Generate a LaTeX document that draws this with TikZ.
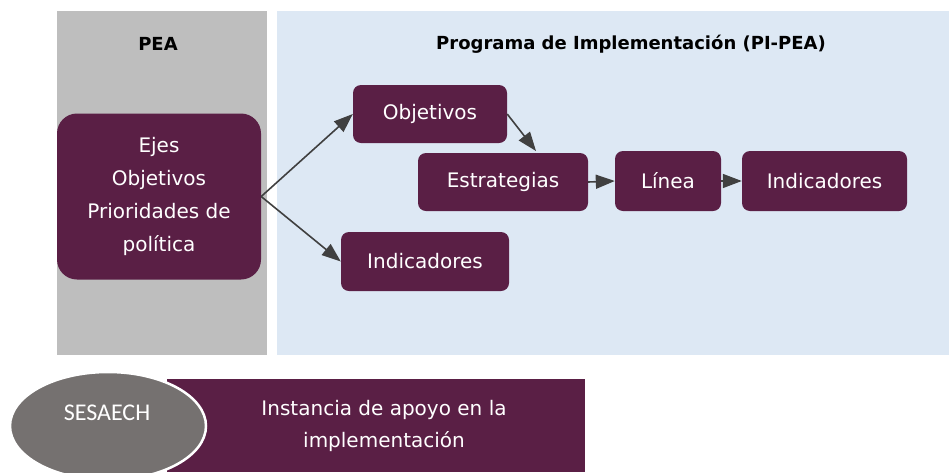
\documentclass[tikz,border=0pt]{standalone}
\usepackage{fontspec}
\setmainfont{DejaVu Sans}
\newfontfamily\calib{Carlito}
\usetikzlibrary{arrows.meta,shapes.geometric}
\definecolor{pur}{HTML}{5A1F45}
\definecolor{panelgray}{HTML}{BEBEBE}
\definecolor{panelblue}{HTML}{DDE8F4}
\definecolor{ellgray}{HTML}{757170}
\definecolor{arr}{HTML}{404040}
\begin{document}
\begin{tikzpicture}[x=1pt,y=-1pt,
  box/.style={fill=pur, rounded corners=8pt, text=white, inner sep=0pt,
    font=\fontsize{20}{24}\selectfont},
  ttl/.style={font=\bfseries\fontsize{18}{21}\selectfont, text=black, inner sep=0pt},
  conn/.style={draw=arr, line width=1.6pt, -{Triangle[length=19pt,width=14pt]}}]
\useasboundingbox (0,0) rectangle (949,472);
% panels
\fill[panelgray] (57,11) rectangle (267,355);
\fill[panelblue] (277,11) rectangle (949,355);
\node[ttl] (t1) at (158,44) {PEA};
\node[ttl] (t2) at (631,44) {Programa de Implementación (PI-PEA)};
% big box
\node[box, rounded corners=20pt, minimum width=204pt, minimum height=166pt, align=center,
  font=\fontsize{20}{33}\selectfont] (big) at (159,196.5)
  {Ejes\\Objetivos\\Prioridades de\\política};
\node[box, minimum width=154pt, minimum height=58pt] (obj) at (430,114) {Objetivos};
\node[box, minimum width=170pt, minimum height=58pt] (est) at (503,182) {Estrategias};
\node[box, minimum width=106pt, minimum height=60pt] (lin) at (668,181) {Línea};
\node[box, minimum width=165pt, minimum height=60pt] (ind1) at (824.5,181) {Indicadores};
\node[box, minimum width=168pt, minimum height=59pt] (ind2) at (425,261.5) {Indicadores};
% connectors
\coordinate (estin) at (536,151);
\draw[conn] (big.east) -- (obj.west);
\draw[conn] (big.east) -- (ind2.west);
\draw[conn] (obj.east) -- (estin);
\draw[conn] (est.east) -- (lin.west);
\draw[conn] (lin.east) -- (ind1.west);
% bottom
\fill[pur] (167,379) rectangle (585,472);
\node[text=white, align=center, inner sep=0pt, font=\fontsize{20}{32}\selectfont] (inst) at (384,426)
  {Instancia de apoyo en la\\implementación};
\node[ellipse, fill=ellgray, draw=white, line width=2.5pt, minimum width=196pt, minimum height=108pt,
  inner sep=0pt] (ses) at (108,426) {};
\node[text=white, inner sep=0pt, font=\calib\fontsize{24}{28}\selectfont] (sestxt) at (107,413) {SESAECH};
\end{tikzpicture}
\end{document}
